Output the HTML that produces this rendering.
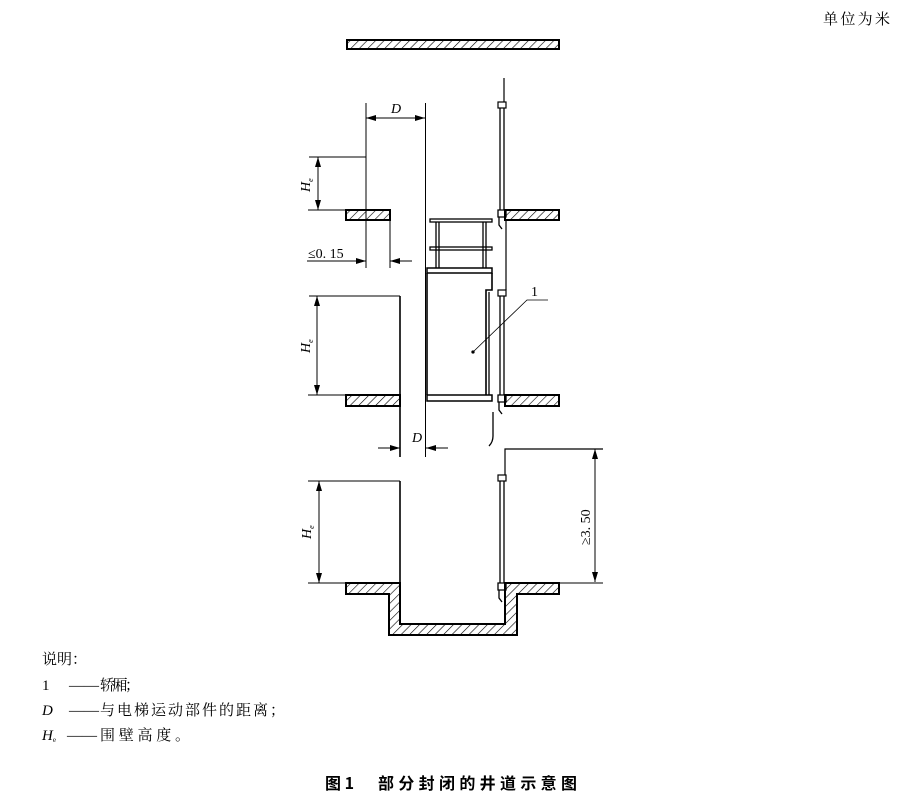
<!DOCTYPE html>
<html><head><meta charset="utf-8"><style>
body{margin:0;background:#fff;width:899px;height:798px;overflow:hidden}
svg{display:block}
text{font-family:"Liberation Serif","Noto Serif CJK SC",serif;fill:#000}
.cj{font-family:"Liberation Serif","Noto Serif CJK SC","Noto Sans CJK SC",serif}
</style></head><body>
<svg width="899" height="798" viewBox="0 0 899 798" xmlns="http://www.w3.org/2000/svg">
<defs>
<pattern id="h" patternUnits="userSpaceOnUse" width="6" height="6" patternTransform="rotate(45)">
<rect width="6" height="6" fill="#fff"/><line x1="0" y1="0" x2="0" y2="6" stroke="#000" stroke-width="1.2"/></pattern>
<marker id="a" viewBox="0 0 10 6" refX="10" refY="3" markerWidth="10" markerHeight="6" orient="auto-start-reverse" markerUnits="userSpaceOnUse"><path d="M0,0 L10,3 L0,6z" fill="#000"/></marker>
</defs>
<g stroke="#000" fill="none" stroke-width="1.3">
<rect x="347" y="40" width="212" height="9" fill="url(#h)" stroke-width="2"/>
<rect x="346" y="210" width="44" height="10" fill="url(#h)" stroke-width="2"/>
<rect x="505" y="210" width="54" height="10" fill="url(#h)" stroke-width="2"/>
<rect x="346" y="395" width="54" height="11" fill="url(#h)" stroke-width="2"/>
<rect x="505" y="395" width="54" height="11" fill="url(#h)" stroke-width="2"/>
<path d="M346,583 L400,583 L400,624 L505,624 L505,583 L559,583 L559,594 L517,594 L517,635 L389,635 L389,594 L346,594 Z" fill="url(#h)" stroke-width="2"/>
<line x1="366" y1="103" x2="366" y2="268" stroke-width="1"/>
<line x1="309" y1="157" x2="366" y2="157" stroke-width="1"/>
<line x1="425.5" y1="103" x2="425.5" y2="457" stroke-width="1"/>
<line x1="366" y1="118" x2="425" y2="118" stroke-width="1" marker-start="url(#a)" marker-end="url(#a)"/>
<line x1="318" y1="157" x2="318" y2="210" stroke-width="1" marker-start="url(#a)" marker-end="url(#a)"/>
<line x1="308" y1="210" x2="346" y2="210" stroke-width="1"/>
<line x1="390" y1="220" x2="390" y2="268" stroke-width="1"/>
<line x1="307" y1="261" x2="366" y2="261" stroke-width="1" marker-end="url(#a)"/>
<line x1="412" y1="261" x2="390" y2="261" stroke-width="1" marker-end="url(#a)"/>
<line x1="309" y1="296" x2="400" y2="296" stroke-width="1"/>
<line x1="400" y1="296" x2="400" y2="457" stroke-width="1.6"/>
<line x1="317" y1="296" x2="317" y2="395" stroke-width="1" marker-start="url(#a)" marker-end="url(#a)"/>
<line x1="308" y1="395" x2="346" y2="395" stroke-width="1"/>
<line x1="378" y1="448" x2="400" y2="448" stroke-width="1" marker-end="url(#a)"/>
<line x1="448" y1="448" x2="426" y2="448" stroke-width="1" marker-end="url(#a)"/>
<rect x="430" y="219" width="62" height="3" stroke-width="1.3"/>
<rect x="430" y="247" width="62" height="3" stroke-width="1.3"/>
<line x1="436" y1="222" x2="436" y2="268"/><line x1="439" y1="222" x2="439" y2="268"/>
<line x1="483" y1="222" x2="483" y2="268"/><line x1="486" y1="222" x2="486" y2="268"/>
<rect x="427" y="268" width="65" height="5" stroke-width="1.5"/>
<path d="M427,273 L427,395 M492,273 L492,290 L486,290 L486,395" stroke-width="1.6"/>
<line x1="489" y1="292" x2="489" y2="395"/>
<rect x="427" y="395" width="65" height="6" stroke-width="1.5"/>
<line x1="504" y1="78" x2="504" y2="102" stroke-width="1.2"/>
<rect x="498" y="102" width="8" height="6" stroke-width="1.2"/>
<line x1="500" y1="108" x2="500" y2="210"/><line x1="504" y1="108" x2="504" y2="210"/>
<path d="M498,210 h8 v7 h-8z M499,217 v8 l3,4" stroke-width="1.3"/>
<line x1="506" y1="220" x2="506" y2="290" stroke-width="1.2"/>
<rect x="498" y="290" width="8" height="6" stroke-width="1.2"/>
<line x1="500" y1="296" x2="500" y2="395"/><line x1="504" y1="296" x2="504" y2="395"/>
<path d="M498,395 h8 v7 h-8z M499,402 v8 l3,4" stroke-width="1.3"/>
<path d="M493,412 L493,436 Q493,442 489,446" stroke-width="1.3"/>
<polyline points="473,352 527,300 548,300" stroke-width="0.8"/>
<circle cx="473" cy="352" r="1" fill="#000"/>
<polyline points="603,449 505,449 505,475" stroke-width="1.2"/>
<rect x="498" y="475" width="8" height="6" stroke-width="1.2"/>
<line x1="500" y1="481" x2="500" y2="583"/><line x1="504" y1="481" x2="504" y2="583"/>
<path d="M498,583 h8 v7 h-8z M499,590 v8 l3,4" stroke-width="1.3"/>
<line x1="595" y1="449" x2="595" y2="582" stroke-width="1" marker-start="url(#a)" marker-end="url(#a)"/>
<line x1="559" y1="583" x2="603" y2="583" stroke-width="1"/>
<line x1="308" y1="481" x2="400" y2="481" stroke-width="1"/>
<line x1="400" y1="481" x2="400" y2="583" stroke-width="1.6"/>
<line x1="319" y1="481" x2="319" y2="583" stroke-width="1" marker-start="url(#a)" marker-end="url(#a)"/>
<line x1="308" y1="583" x2="346" y2="583" stroke-width="1"/>
</g>
<g font-size="14">
<text x="391" y="113" font-style="italic">D</text>
<text x="412" y="442" font-style="italic">D</text>
<text x="531" y="296">1</text>
<text x="308" y="258">≤0. 15</text>
<text transform="translate(310,192) rotate(-90)" font-style="italic">H<tspan font-size="8" dy="3">e</tspan></text>
<text transform="translate(310,353) rotate(-90)" font-style="italic">H<tspan font-size="8" dy="3">e</tspan></text>
<text transform="translate(311,539) rotate(-90)" font-style="italic">H<tspan font-size="8" dy="3">e</tspan></text>
<text transform="translate(590,545) rotate(-90)">≥3. 50</text>
</g>
<g class="cj" font-size="15">
<text x="823" y="24" class="cj" textLength="67" lengthAdjust="spacing">单位为米</text>
<text x="42" y="664" class="cj">说明：</text>
<text x="42" y="690" class="cj">1</text><text x="69" y="690" class="cj" textLength="30" lengthAdjust="spacingAndGlyphs">——</text><text x="100" y="690" class="cj" textLength="40" lengthAdjust="spacing">轿厢；</text>
<text x="42" y="715" class="cj" font-style="italic">D</text><text x="69" y="715" class="cj" textLength="30" lengthAdjust="spacingAndGlyphs">——</text><text x="100" y="715" class="cj" textLength="185" lengthAdjust="spacing">与电梯运动部件的距离；</text>
<text x="42" y="740" class="cj" font-style="italic">H<tspan font-size="7" dy="2" font-style="normal">e</tspan></text><text x="67" y="740" class="cj" textLength="30" lengthAdjust="spacingAndGlyphs">——</text><text x="100" y="740" class="cj" textLength="90" lengthAdjust="spacing">围壁高度。</text>
</g>
<text x="325" y="789" font-size="16" font-weight="bold" style="font-family:'Noto Sans CJK SC',sans-serif">图 1</text>
<text x="378" y="789" font-size="16" font-weight="bold" textLength="199" lengthAdjust="spacing" style="font-family:'Noto Sans CJK SC',sans-serif">部分封闭的井道示意图</text>
</svg>
</body></html>
